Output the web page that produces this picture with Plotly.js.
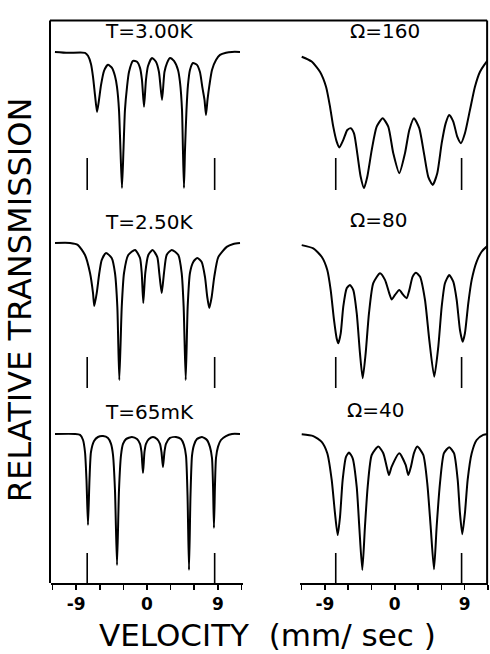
<!DOCTYPE html>
<html>
<head>
<meta charset="utf-8">
<script src="https://cdn.plot.ly/plotly-3.0.1.min.js"></script>
<style>html,body{margin:0;padding:0;background:#fff;}#chart{width:490px;height:654px;}</style>
</head>
<body>
<div id="chart"></div>
<script>
// ---- Data (velocity in mm/sec, relative transmission in arbitrary % units) ----
const v300K = [-11.7,-10.04,-7.88,-7.5,-7.12,-6.86,-6.61,-6.35,-6.1,-5.84,-5.46,-4.96,-4.45,-4.07,-3.81,-3.56,-3.37,-3.18,-2.99,-2.8,-2.54,-2.29,-1.78,-1.27,-0.89,-0.64,-0.38,-0.13,0.13,0.64,1.14,1.52,1.91,2.22,2.54,2.92,3.43,3.94,4.19,4.45,4.57,4.7,4.83,5.02,5.21,5.46,5.84,6.35,6.73,7.05,7.31,7.5,7.69,7.94,8.26,8.77,9.28,10.04,10.8,11.82];
const t300K = [100,99.7,99.7,98.7,96,91.7,85.7,80,84,89,93.7,95.7,94.7,92,88.3,80.7,67.3,54.7,67.3,80.7,88.3,93.3,97,96.7,94.7,90.7,81.7,90.7,95.3,98,96.7,93.3,84,93.3,96.3,98,97,94,90,80.7,67.3,54.7,67.3,80.7,89,94,96.3,95.7,93.3,88,84,79,84,89,94,97.3,99,99.7,100,100];

const v250K = [-11.69,-9.78,-8.77,-7.88,-7.24,-6.86,-6.7,-6.39,-6.06,-5.76,-5.21,-4.49,-4.07,-3.77,-3.52,-3.21,-2.92,-2.38,-1.52,-0.89,-0.67,-0.47,-0.22,0.17,0.72,1.31,1.56,1.87,2.16,2.5,3.14,3.98,4.41,4.66,4.92,5.17,5.46,5.88,6.39,6.95,7.37,7.66,7.92,8.22,8.55,9.06,10.13,10.97,11.82];
const t250K = [100,100,99.3,96,90,83.3,79,83.3,90,94.3,96.7,95,90,78.7,54.3,78.7,90,96,97.7,95,90,80,90,96,97.7,95.3,90,83.3,90,96,97.7,96,90,78.7,54.3,78.7,90,93.7,95,93.7,88.7,82,78.3,82,88.7,95.3,98.7,99.7,100];

const v65mK = [-11.69,-9.15,-8.51,-8.13,-7.88,-7.69,-7.5,-7.31,-7.12,-6.73,-6.23,-5.59,-4.96,-4.57,-4.32,-4.07,-3.81,-3.56,-3.3,-3.05,-2.67,-1.91,-1.27,-0.89,-0.7,-0.51,-0.32,-0.13,0.25,0.76,1.27,1.65,1.84,2.03,2.22,2.41,2.92,3.68,4.32,4.7,4.96,5.15,5.34,5.53,5.72,5.97,6.35,6.99,7.62,8.0,8.26,8.39,8.51,8.64,8.77,9.02,9.4,10.04,10.8,11.82];
const t65mK = [100,100,99.7,98,94,84.7,69.7,84.7,94,97.7,99,99.3,98.7,96.7,93,81.3,56.3,81.3,93,96.7,98.3,99,98.3,96.7,94,87,94,96.7,98.3,99,98.3,96.7,94,89,94,96.7,98.7,99,98.3,96.3,92.7,79.7,54.7,79.7,92.7,96.3,98.3,99,98,95.7,92,83,68.7,83,92,95.7,98,99.3,100,100];

const v160 = [-11.98,-10.7,-9.63,-8.85,-8.34,-7.92,-7.48,-7.14,-6.63,-6.11,-5.68,-5.25,-4.83,-4.39,-3.96,-3.54,-2.97,-2.33,-1.56,-0.84,-0.19,0.58,1.31,1.87,2.47,3.15,3.76,4.31,4.88,5.47,6.04,6.55,7.01,7.53,8.04,8.52,9.03,9.68,10.32,10.97,11.83,12.0];
const t160 = [98.4,96.8,93.4,88.4,81.8,75.1,70.1,68.2,70.7,74,74.6,72.9,66.2,58.4,54.6,58.4,67.3,75.1,77.9,75.1,66.2,59.6,66.2,74,77.9,74.6,66.2,58.4,55.7,59.6,69.6,76.2,79,76.8,71.8,69.6,72.9,80.7,88.4,93.4,96.8,97.3];

const v80 = [-11.98,-10.49,-9.41,-8.69,-8.25,-7.82,-7.48,-7.27,-6.96,-6.63,-6.19,-5.77,-5.34,-4.9,-4.48,-4.13,-3.75,-3.32,-2.77,-1.9,-1.26,-0.71,-0.4,0.03,0.58,1.09,1.53,1.87,2.3,2.73,3.24,3.89,4.44,5.08,5.6,6.04,6.46,7.01,7.53,7.97,8.39,8.74,9.03,9.46,9.9,10.54,11.18,11.83,12.0];
const t80 = [99.3,98.2,95.4,91,84.3,74.3,68.2,66.6,69.9,78.8,84.9,86,84.3,76.6,63.2,54.9,63.2,76.6,86.6,89.9,87.7,83.2,81.2,82.7,84.3,82.7,81.6,84.3,88.8,90.1,88.8,81,67.7,55.4,65.4,78.8,86.6,89.3,87.1,81,71,67.1,69.9,79.9,87.7,93.8,97.1,98.8,99.1];

const v40 = [-11.98,-10.49,-9.41,-8.69,-8.12,-7.7,-7.35,-7.05,-6.71,-6.28,-5.89,-5.42,-4.9,-4.57,-4.18,-3.84,-3.49,-2.97,-2.12,-1.48,-1.04,-0.75,-0.4,0.58,1.4,1.74,2.08,2.47,2.9,3.67,4.18,4.62,5.05,5.39,5.82,6.33,7.01,7.62,8.1,8.39,8.69,9.03,9.38,9.9,10.54,11.39,12.0];
const t40 = [99.9,99.3,97.4,93.6,84.7,73.6,66.3,72.4,84.7,92.4,93.8,91.9,82.4,69.1,54.7,69.1,82.4,93,95.8,93.6,89.1,86.3,89.1,93.6,89.7,86.3,89.1,93.6,95.8,93,83.6,69.1,54.9,69.1,83.6,93.6,95.6,93.6,84.7,73.6,66.6,73.6,84.7,93.6,98,99.7,100];

// saturation hyperfine line positions (vertical bars)
const barV = [-7.6, 8.6];
const barTop = [64.7, 62.0, 60.3];
const barBottom = [54.0, 51.7, 50.33];

const leftTitles = ['T=3.00K', 'T=2.50K', 'T=65mK'];
const rightTitles = ['\u03A9=160', '\u03A9=80', '\u03A9=40'];
const tickVals = [-12, -9, -6, -3, 0, 3, 6, 9, 12];
const tickText = ['', '-9', '', '', '0', '', '', '9', ''];

// ---- Build traces ----
const series = [
  {v: v300K, t: t300K, n: 1, row: 0},
  {v: v160,  t: t160,  n: 2, row: 0},
  {v: v250K, t: t250K, n: 3, row: 1},
  {v: v80,   t: t80,   n: 4, row: 1},
  {v: v65mK, t: t65mK, n: 5, row: 2},
  {v: v40,   t: t40,   n: 6, row: 2}
];
const traces = [];
series.forEach(s => {
  const xa = s.n === 1 ? 'x' : 'x' + s.n;
  const ya = s.n === 1 ? 'y' : 'y' + s.n;
  traces.push({x: s.v, y: s.t, xaxis: xa, yaxis: ya, mode: 'lines', type: 'scatter',
    line: {color: '#000', width: 2, shape: 'spline', smoothing: 0.6}, hoverinfo: 'skip', showlegend: false});
  traces.push({x: [barV[0], barV[0], null, barV[1], barV[1]],
    y: [barBottom[s.row], barTop[s.row], null, barBottom[s.row], barTop[s.row]],
    xaxis: xa, yaxis: ya, mode: 'lines', type: 'scatter',
    line: {color: '#000', width: 1.6}, hoverinfo: 'skip', showlegend: false});
});

// ---- Layout ----
const leftDom = [0.0023, 0.4406];
const rightDom = [0.5708, 1.0];
const rowDom = [[0.6667, 1.0], [0.3333, 0.6667], [0.0, 0.3333]];
const yRanges = [[49.9, 113.3], [50.1, 113.57], [50.33, 113.77]];
const leftRange = [-12.2, 12.2];
const rightRange = [-12.2, 12.0];

const frame = {color: '#000', width: 2};
const frameTop = 0.985;
const layout = {
  width: 490, height: 654,
  margin: {l: 50, r: 2, t: 12, b: 71},
  paper_bgcolor: '#fff', plot_bgcolor: 'rgba(0,0,0,0)',
  showlegend: false,
  font: {family: 'DejaVu Sans, sans-serif', color: '#000'},
  shapes: [
    {type: 'line', xref: 'paper', yref: 'paper', x0: 0, x1: 0, y0: 0, y1: frameTop, line: frame, layer: 'above'},
    {type: 'line', xref: 'paper', yref: 'paper', x0: 0.998, x1: 0.998, y0: 0, y1: frameTop, line: frame, layer: 'above'},
    {type: 'line', xref: 'paper', yref: 'paper', x0: 0, x1: 0.998, y0: frameTop, y1: frameTop, line: frame, layer: 'above'}
  ],
  annotations: []
};
for (let n = 1; n <= 6; n++) {
  const row = Math.floor((n - 1) / 2);
  const left = (n % 2) === 1;
  const isBottom = row === 2;
  const xk = n === 1 ? 'xaxis' : 'xaxis' + n;
  const yk = n === 1 ? 'yaxis' : 'yaxis' + n;
  layout[xk] = {
    domain: left ? leftDom : rightDom,
    range: left ? leftRange : rightRange,
    anchor: n === 1 ? 'y' : 'y' + n,
    visible: isBottom,
    showgrid: false, zeroline: false,
    showline: true, linecolor: '#000', linewidth: 1.6,
    ticks: 'outside', ticklen: 5, tickwidth: 1.5, tickcolor: '#000',
    tickvals: tickVals, ticktext: tickText,
    tickfont: {family: 'DejaVu Sans, sans-serif', size: 17, weight: 'bold', color: '#000'}
  };
  layout[yk] = {
    domain: rowDom[row], range: yRanges[row],
    anchor: n === 1 ? 'x' : 'x' + n,
    visible: false, showgrid: false, zeroline: false
  };
}
const titleY = [0.966, 0.632, 0.2995];
const rightTitleX = [0.765, 0.751, 0.744];
const rightTitleY = [0.966, 0.6357, 0.303];
for (let r = 0; r < 3; r++) {
  layout.annotations.push({text: leftTitles[r], xref: 'paper', yref: 'paper', x: 0.2283, y: titleY[r],
    xanchor: 'center', yanchor: 'middle', showarrow: false,
    font: {family: 'DejaVu Sans, sans-serif', size: 20, color: '#000'}});
  layout.annotations.push({text: rightTitles[r], xref: 'paper', yref: 'paper', x: rightTitleX[r], y: rightTitleY[r],
    xanchor: 'center', yanchor: 'middle', showarrow: false,
    font: {family: 'DejaVu Sans, sans-serif', size: 20, color: '#000'}});
}
layout.annotations.push({text: 'RELATIVE TRANSMISSION', xref: 'paper', yref: 'paper', x: -0.0685, y: 0.497,
  xanchor: 'center', yanchor: 'middle', textangle: -90, showarrow: false,
  font: {family: 'DejaVu Sans, sans-serif', size: 32, color: '#000'}});
layout.annotations.push({text: 'VELOCITY  (mm/ sec )', xref: 'paper', yref: 'paper', x: 0.4977, y: -0.091,
  xanchor: 'center', yanchor: 'middle', showarrow: false,
  font: {family: 'DejaVu Sans, sans-serif', size: 31, color: '#000'}});

Plotly.newPlot('chart', traces, layout, {staticPlot: true, displayModeBar: false});
</script>
</body>
</html>
